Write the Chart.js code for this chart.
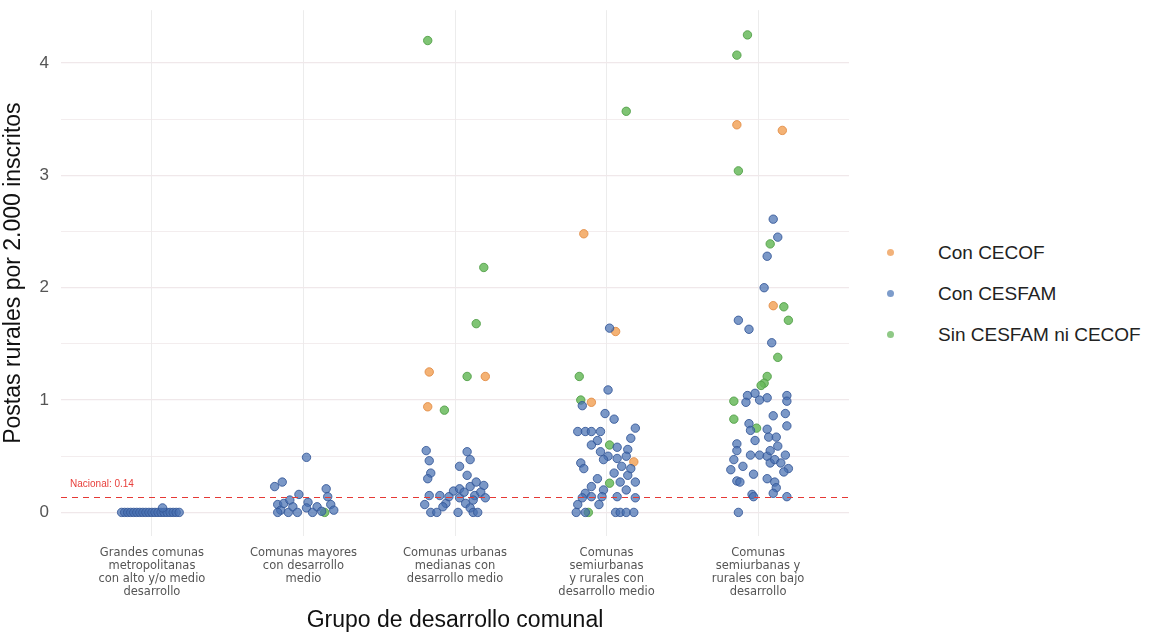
<!DOCTYPE html>
<html lang="es">
<head>
  <meta charset="UTF-8" />
  <title>Postas rurales por grupo de desarrollo comunal</title>
  <script src="https://cdn.jsdelivr.net/npm/chart.js"></script>
  <style>
    body {
      margin: 0;
      background: #fff;
      font-family: "Liberation Sans", Arial, sans-serif;
      overflow: hidden;
    }
    .wrap {
      position: relative;
      width: 1154px;
      height: 636px;
      overflow: hidden;
    }
    #chart {
      position: absolute;
      left: 0;
      top: -12px;
    }
    .legend {
      position: absolute;
      left: 885px;
      top: 239px;
    }
    .legend div {
      height: 41px;
      line-height: 28px;
      font-size: 19px;
      color: #222;
    }
    .legend i {
      display: inline-block;
      width: 7px;
      height: 7px;
      border-radius: 50%;
      margin: 0 44px 3px 2px;
      vertical-align: middle;
    }
  </style>
</head>
<body>
  <div class="wrap">
    <canvas id="chart" width="860" height="648"></canvas>
    <div class="legend">
      <div><i style="background:#f2b27a"></i>Con CECOF</div>
      <div><i style="background:#7d9ccb"></i>Con CESFAM</div>
      <div><i style="background:#8fc986"></i>Sin CESFAM ni CECOF</div>
    </div>
  </div>

  <script>
    // Grupos (eje x discreto: 1..5)
    const grupos = [
      ["Grandes comunas", "metropolitanas", "con alto y/o medio", "desarrollo"],
      ["Comunas mayores", "con desarrollo", "medio"],
      ["Comunas urbanas", "medianas con", "desarrollo medio"],
      ["Comunas", "semiurbanas", "y rurales con", "desarrollo medio"],
      ["Comunas", "semiurbanas y", "rurales con bajo", "desarrollo"]
    ];
    const nacional = 0.14;

    // Con CECOF (x con jitter)
    const cecofX = [2.83, 3.20, 2.82, 3.85, 4.06, 3.90, 4.18, 4.86, 5.16, 5.10];
    const cecofY = [1.25, 1.21, 0.94, 2.48, 1.61, 0.98, 0.45, 3.45, 3.40, 1.84];

    // Sin CESFAM ni CECOF
    const sinX = [2.14, 2.82, 3.19, 3.14, 3.08, 2.93, 4.13, 3.82, 3.83, 4.02, 4.02, 3.88,
                  4.93, 4.86, 4.87, 5.08, 5.17, 5.20, 5.13, 5.06, 5.04, 5.02, 4.84, 4.84, 4.99];
    const sinY = [0.00, 4.20, 2.18, 1.68, 1.21, 0.91, 3.57, 1.21, 1.00, 0.60, 0.26, 0.00,
                  4.25, 4.07, 3.04, 2.39, 1.83, 1.71, 1.38, 1.21, 1.15, 1.13, 0.99, 0.83, 0.75];

    // Con CESFAM
    const cesfamX = [
      // grupo 1
      0.80, 0.82, 0.84, 0.86, 0.88, 0.90, 0.92, 0.94, 0.96, 0.98, 1.00, 1.02, 1.04, 1.06,
      1.08, 1.10, 1.12, 1.14, 1.16, 1.18, 1.07,
      // grupo 2
      1.81, 1.86, 2.02, 1.97, 2.03, 2.15, 2.16, 2.18, 2.20, 1.83, 1.85, 1.87, 1.90, 1.93,
      1.96, 2.02, 2.06, 2.09, 2.12, 1.83, 1.91,
      // grupo 3
      2.81, 2.83, 2.84, 2.82, 3.08, 3.10, 3.03, 3.08, 3.10, 3.14, 3.19, 2.83, 2.90, 2.80,
      2.84, 2.88, 2.94, 2.96, 2.99, 3.03, 3.02, 3.07, 3.10, 3.12, 3.15, 3.13, 3.17, 3.20,
      2.92, 3.12, 3.03, 3.06,
      // grupo 4
      4.02, 4.01, 3.84, 3.99, 4.05, 3.81, 3.86, 3.90, 3.96, 4.19, 4.16, 3.94, 4.07, 3.90,
      4.14, 3.96, 4.01, 4.07, 4.13, 3.83, 3.85, 4.10, 4.05, 4.14, 3.94, 3.90, 4.09, 4.19,
      3.98, 4.13, 3.86, 3.84, 3.90, 3.97, 4.07, 4.19, 3.81, 3.95, 3.80, 3.86, 4.06, 4.09,
      4.13, 4.18, 3.98, 4.16,
      // grupo 5
      5.10, 5.13, 5.06, 5.04, 4.87, 4.94, 5.09, 4.93, 4.98, 5.01, 5.06, 4.92, 5.19, 5.19,
      5.18, 5.19, 5.10, 4.94, 4.95, 5.06, 5.07, 5.12, 4.98, 4.86, 4.86, 5.13, 4.95, 5.01,
      5.06, 5.08, 5.11, 5.18, 5.20, 5.17, 4.84, 4.82, 4.90, 4.97, 4.86, 4.88, 5.06, 5.11,
      5.12, 5.10, 5.19, 4.96, 4.97, 4.87, 5.08, 5.15
    ];
    const cesfamY = [
      // grupo 1
      0.00, 0.00, 0.00, 0.00, 0.00, 0.00, 0.00, 0.00, 0.00, 0.00, 0.00, 0.00, 0.00, 0.00,
      0.00, 0.00, 0.00, 0.00, 0.00, 0.00, 0.04,
      // grupo 2
      0.23, 0.27, 0.49, 0.16, 0.09, 0.21, 0.14, 0.07, 0.02, 0.07, 0.02, 0.08, 0.00, 0.05,
      0.00, 0.04, 0.00, 0.05, 0.01, 0.00, 0.11,
      // grupo 3
      0.55, 0.46, 0.35, 0.30, 0.54, 0.47, 0.41, 0.33, 0.23, 0.27, 0.24, 0.15, 0.15, 0.07,
      0.00, 0.00, 0.08, 0.14, 0.19, 0.21, 0.00, 0.08, 0.04, 0.00, 0.00, 0.15, 0.18, 0.13,
      0.05, 0.11, 0.13, 0.18,
      // grupo 4
      1.64, 1.09, 0.95, 0.88, 0.83, 0.72, 0.72, 0.72, 0.72, 0.75, 0.66, 0.64, 0.58, 0.60,
      0.56, 0.54, 0.50, 0.48, 0.50, 0.44, 0.39, 0.41, 0.35, 0.33, 0.30, 0.23, 0.27, 0.27,
      0.20, 0.20, 0.17, 0.13, 0.14, 0.14, 0.14, 0.13, 0.07, 0.07, 0.00, 0.00, 0.00, 0.00,
      0.00, 0.00, 0.47, 0.39,
      // grupo 5
      2.61, 2.45, 2.28, 2.00, 1.71, 1.63, 1.51, 1.04, 1.06, 1.00, 1.02, 0.98, 1.04, 0.99,
      0.88, 0.77, 0.86, 0.79, 0.73, 0.74, 0.67, 0.67, 0.64, 0.61, 0.55, 0.59, 0.51, 0.51,
      0.50, 0.44, 0.47, 0.51, 0.39, 0.36, 0.47, 0.38, 0.41, 0.34, 0.28, 0.27, 0.30, 0.27,
      0.22, 0.17, 0.14, 0.16, 0.14, 0.00, 0.55, 0.44
    ];

    const yTicks = [0, 0.5, 1, 1.5, 2, 2.5, 3, 3.5, 4];

    function toPoints(xs, ys) {
      return xs.map((x, i) => ({ x: x, y: ys[i] }));
    }

    // Línea nacional punteada
    const nacionalLine = {
      id: "nacionalLine",
      afterDatasetsDraw(chart) {
        const { ctx, chartArea, scales } = chart;
        const y = Math.round(scales.y.getPixelForValue(nacional)) + 0.5;
        ctx.save();
        ctx.strokeStyle = "#e53935";
        ctx.lineWidth = 1.2;
        ctx.setLineDash([6, 5]);
        ctx.beginPath();
        ctx.moveTo(chartArea.left, y);
        ctx.lineTo(chartArea.right, y);
        ctx.stroke();
        ctx.setLineDash([]);
        ctx.fillStyle = "#e8403c";
        ctx.font = "10px 'Liberation Sans', Arial, sans-serif";
        ctx.textBaseline = "bottom";
        ctx.fillText("Nacional: " + nacional, chartArea.left + 9, y - 8);
        ctx.restore();
      }
    };

    const ptStyle = (bg, border) => ({
      backgroundColor: bg,
      borderColor: border,
      borderWidth: 1,
      pointRadius: 4.2,
      pointHoverRadius: 4.2
    });

    new Chart(document.getElementById("chart"), {
      type: "scatter",
      data: {
        datasets: [
          Object.assign({ label: "Con CESFAM", data: toPoints(cesfamX, cesfamY) },
            ptStyle("rgba(72,112,178,0.72)", "rgba(50,86,150,0.85)")),
          Object.assign({ label: "Con CECOF", data: toPoints(cecofX, cecofY) },
            ptStyle("rgba(242,164,92,0.85)", "rgba(226,142,72,0.9)")),
          Object.assign({ label: "Sin CESFAM ni CECOF", data: toPoints(sinX, sinY) },
            ptStyle("rgba(104,186,92,0.85)", "rgba(82,160,72,0.9)"))
        ]
      },
      options: {
        responsive: false,
        animation: false,
        layout: { padding: { top: 0, right: 11, left: 0, bottom: 0 } },
        plugins: {
          legend: { display: false },
          tooltip: { enabled: false }
        },
        scales: {
          x: {
            type: "linear",
            min: 0.4,
            max: 5.6,
            afterBuildTicks: (s) => { s.ticks = grupos.map((g, i) => ({ value: i + 1 })); },
            afterFit: (s) => { s.height = 100; },
            border: { display: false },
            grid: { color: "#ececec", lineWidth: 1, drawTicks: false },
            ticks: {
              padding: 10,
              color: "#555",
              font: { family: "'DejaVu Sans', sans-serif", size: 11.5, lineHeight: 1.15 },
              maxRotation: 0,
              autoSkip: false,
              callback: (v) => grupos[Math.round(v) - 1]
            },
            title: {
              display: true,
              text: "Grupo de desarrollo comunal",
              color: "#111",
              font: { size: 23 },
              padding: { top: 4, bottom: 2 }
            }
          },
          y: {
            min: -0.21,
            max: 4.47,
            afterBuildTicks: (s) => { s.ticks = yTicks.map((v) => ({ value: v })); },
            afterFit: (s) => { s.width = 61; },
            border: { display: false },
            grid: {
              color: "#f0e8ea",
              lineWidth: (c) => (Number.isInteger(c.tick.value) ? 1.2 : 0.8),
              drawTicks: false
            },
            ticks: {
              padding: 12,
              color: "#555",
              font: { size: 17 },
              callback: (v) => (Number.isInteger(v) ? v : "")
            },
            title: {
              display: true,
              text: "Postas rurales por 2.000 inscritos",
              color: "#111",
              font: { size: 23 },
              padding: { top: 0, bottom: 2 }
            }
          }
        }
      },
      plugins: [nacionalLine]
    });
  </script>
</body>
</html>
